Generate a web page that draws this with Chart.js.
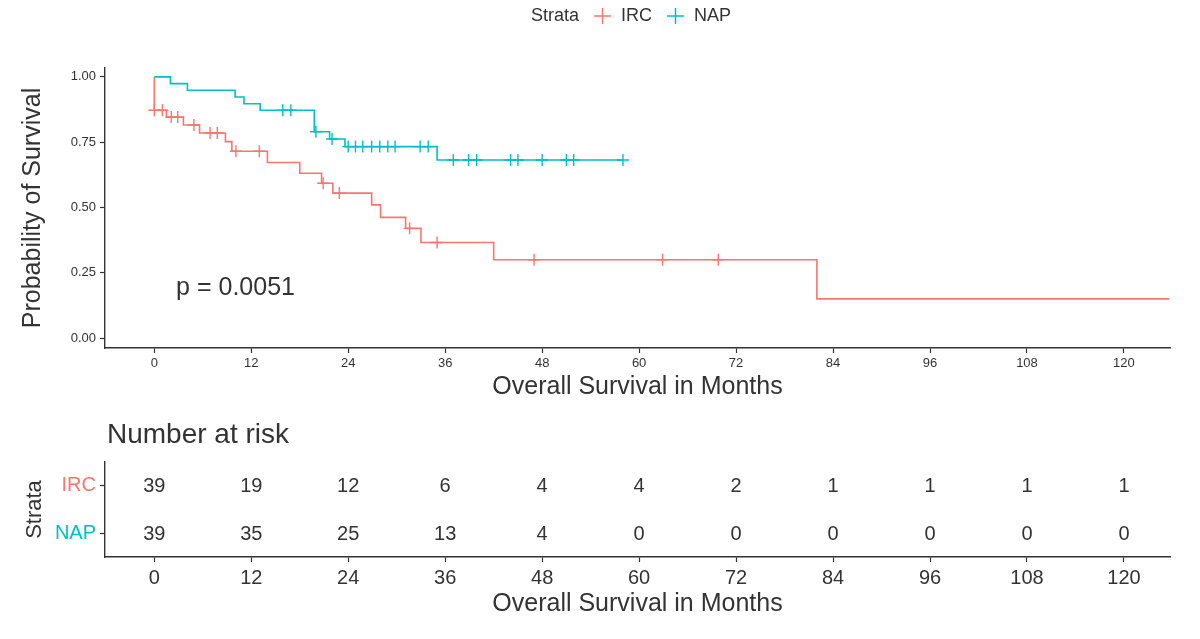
<!DOCTYPE html>
<html>
<head>
<meta charset="utf-8">
<script src="https://cdn.jsdelivr.net/npm/chart.js@4"></script>
<style>
  body { margin: 0; background: #fff; }
  #wrap { position: relative; width: 1200px; height: 639px; }
  #km { position: absolute; left: 0; top: 0; }
  #risk { position: absolute; left: 0; top: 410px; }
</style>
</head>
<body>
<div id="wrap">
  <canvas id="km" width="1200" height="410"></canvas>
  <canvas id="risk" width="1200" height="229"></canvas>
</div>
<script>
// strata
const strata = ['IRC', 'NAP'];
const colors = ['#F8766D', '#00BFC4'];

// IRC survival curve (step times in months, survival after step)
const ircTimes = [0, 0, 1.5, 3.6, 5.6, 8.8, 9.6, 14.0, 18.0, 20.7, 22.1, 26.9, 28.0, 31.1, 33.0, 42.0, 82.0, 125.6];
const ircSurv  = [1, 0.872, 0.846, 0.816, 0.785, 0.752, 0.715, 0.672, 0.631, 0.593, 0.555, 0.51, 0.462, 0.42, 0.366, 0.30, 0.15, 0.15];
const ircCensor = [0, 1.0, 2.1, 2.9, 4.9, 6.9, 7.8, 10.1, 13.0, 20.9, 22.9, 31.6, 35.0, 47.0, 62.9, 69.8];

// NAP survival curve
const napTimes = [0, 2.0, 4.1, 10.0, 11.1, 13.1, 19.8, 21.7, 23.6, 35.0, 58.0];
const napSurv  = [1, 0.974, 0.949, 0.923, 0.897, 0.872, 0.79, 0.762, 0.733, 0.682, 0.682];
const napCensor = [15.9, 16.9, 20.0, 22.0, 24.0, 24.9, 25.8, 26.9, 27.9, 28.9, 29.8, 32.9, 33.9,
                   37.0, 38.9, 39.9, 44.1, 45.0, 48.0, 51.0, 51.9, 58.0];

// ticks
const monthTicks = [0, 12, 24, 36, 48, 60, 72, 84, 96, 108, 120];
const survTicks = [0, 0.25, 0.5, 0.75, 1];

// number at risk
const riskTimes = [0, 12, 24, 36, 48, 60, 72, 84, 96, 108, 120];
const ircRisk = [39, 19, 12, 6, 4, 4, 2, 1, 1, 1, 1];
const napRisk = [39, 35, 25, 13, 4, 0, 0, 0, 0, 0, 0];

const pText = 'p = 0.0051';

const FONT = '"Liberation Sans", Arial, Helvetica, sans-serif';
const INK = '#333333';

function survAt(times, surv, t) {
  let v = surv[0];
  for (let i = 0; i < times.length; i++) {
    if (times[i] <= t) v = surv[i];
  }
  return v;
}

function curve(times, surv) {
  return times.map((t, i) => ({x: t, y: surv[i]}));
}
function marks(cens, times, surv) {
  return cens.map(t => ({x: t, y: survAt(times, surv, t)}));
}

const kmText = {
  id: 'kmText',
  afterDraw(chart) {
    const {ctx, scales: {x, y}} = chart;
    ctx.save();
    ctx.fillStyle = INK;
    ctx.textBaseline = 'middle';
    ctx.font = '25px ' + FONT;
    ctx.fillText(pText, x.getPixelForValue(2.7), y.getPixelForValue(0.19));

    // legend: Strata + IRC + NAP
    ctx.font = '18px ' + FONT;
    const items = [{text: 'Strata'}];
    strata.forEach((s, i) => items.push({cross: colors[i]}, {text: s}));
    const gapCross = 15, gapText = 10, crossW = 17;
    let cx = 531;
    const ly = 16;
    items.forEach((it, i) => {
      if (i) cx += it.text ? gapText : gapCross;
      if (it.text) {
        ctx.fillStyle = INK;
        ctx.fillText(it.text, cx, ly);
        cx += ctx.measureText(it.text).width;
      } else {
        ctx.strokeStyle = it.cross;
        ctx.lineWidth = 1.5;
        ctx.beginPath();
        ctx.moveTo(cx, ly); ctx.lineTo(cx + crossW, ly);
        ctx.moveTo(cx + crossW / 2, ly - 8); ctx.lineTo(cx + crossW / 2, ly + 8);
        ctx.stroke();
        cx += crossW;
      }
    });
    ctx.restore();
  }
};

const axisCommon = {
  grid: {drawOnChartArea: false, drawTicks: true, tickLength: 5, tickColor: INK, tickWidth: 1.2},
  border: {color: INK, width: 1.4}
};

new Chart(document.getElementById('km'), {
  type: 'line',
  data: {
    datasets: [
      {label: 'IRC', data: curve(ircTimes, ircSurv), borderColor: colors[0], borderWidth: 1.6,
       stepped: true, pointRadius: 0, fill: false},
      {label: 'NAP', data: curve(napTimes, napSurv), borderColor: colors[1], borderWidth: 1.6,
       stepped: true, pointRadius: 0, fill: false},
      {label: 'IRC censored', data: marks(ircCensor, ircTimes, ircSurv), showLine: false,
       pointStyle: 'cross', pointRadius: 6, pointBorderWidth: 1.4, borderColor: colors[0]},
      {label: 'NAP censored', data: marks(napCensor, napTimes, napSurv), showLine: false,
       pointStyle: 'cross', pointRadius: 6, pointBorderWidth: 1.4, borderColor: colors[1]}
    ]
  },
  options: {
    responsive: false,
    animation: false,
    layout: {padding: {top: 68, right: 30, left: 0, bottom: 0}},
    plugins: {legend: {display: false}, tooltip: {enabled: false}},
    scales: {
      x: {
        type: 'linear', min: -6.1, max: 125.7,
        afterBuildTicks: s => { s.ticks = monthTicks.map(v => ({value: v})); },
        afterFit: s => { s.height = 62; },
        ticks: {color: INK, font: {size: 13, family: FONT}, padding: 3, maxRotation: 0, autoSkip: false},
        title: {display: true, text: 'Overall Survival in Months', color: INK,
                font: {size: 25, family: FONT}, padding: {top: 0, bottom: 8}},
        ...axisCommon
      },
      y: {
        type: 'linear', min: -0.038, max: 1.034,
        afterBuildTicks: s => { s.ticks = survTicks.map(v => ({value: v})); },
        afterFit: s => { s.width = 105; },
        ticks: {color: INK, font: {size: 13, family: FONT}, padding: 4, callback: v => v.toFixed(2)},
        title: {display: true, text: 'Probability of Survival', color: INK,
                font: {size: 25, family: FONT}, padding: {top: 18, bottom: 0}},
        ...axisCommon
      }
    }
  },
  plugins: [kmText]
});

const riskText = {
  id: 'riskText',
  afterDraw(chart) {
    const {ctx} = chart;
    ctx.save();
    ctx.fillStyle = INK;
    ctx.textBaseline = 'middle';
    ctx.textAlign = 'left';
    ctx.font = '28px ' + FONT;
    ctx.fillText('Number at risk', chart.chartArea.left + 2, 25);
    ctx.font = '20px ' + FONT;
    ctx.textAlign = 'center';
    chart.data.datasets.forEach((ds, i) => {
      chart.getDatasetMeta(i).data.forEach((pt, j) => {
        ctx.fillText(String(ds.data[j].n), pt.x, pt.y + 1);
      });
    });
    ctx.restore();
  }
};

new Chart(document.getElementById('risk'), {
  type: 'scatter',
  data: {
    datasets: [
      {label: 'IRC', data: riskTimes.map((t, j) => ({x: t, y: 'IRC', n: ircRisk[j]})), pointRadius: 0},
      {label: 'NAP', data: riskTimes.map((t, j) => ({x: t, y: 'NAP', n: napRisk[j]})), pointRadius: 0}
    ]
  },
  options: {
    responsive: false,
    animation: false,
    layout: {padding: {top: 52, right: 30, left: 0, bottom: 0}},
    plugins: {legend: {display: false}, tooltip: {enabled: false}},
    scales: {
      x: {
        type: 'linear', min: -6.1, max: 125.7,
        afterBuildTicks: s => { s.ticks = monthTicks.map(v => ({value: v})); },
        afterFit: s => { s.height = 82; },
        ticks: {color: INK, font: {size: 20, family: FONT}, padding: 4, maxRotation: 0, autoSkip: false},
        title: {display: true, text: 'Overall Survival in Months', color: INK,
                font: {size: 25, family: FONT}, padding: {top: 0, bottom: 20}},
        ...axisCommon
      },
      y: {
        type: 'category', labels: strata, offset: true,
        afterFit: s => { s.width = 105; },
        ticks: {color: c => colors[c.index], font: {size: 20, family: FONT}, padding: 4},
        title: {display: true, text: 'Strata', color: INK,
                font: {size: 22, family: FONT}, padding: {top: 22, bottom: 0}},
        ...axisCommon
      }
    }
  },
  plugins: [riskText]
});
</script>
</body>
</html>
